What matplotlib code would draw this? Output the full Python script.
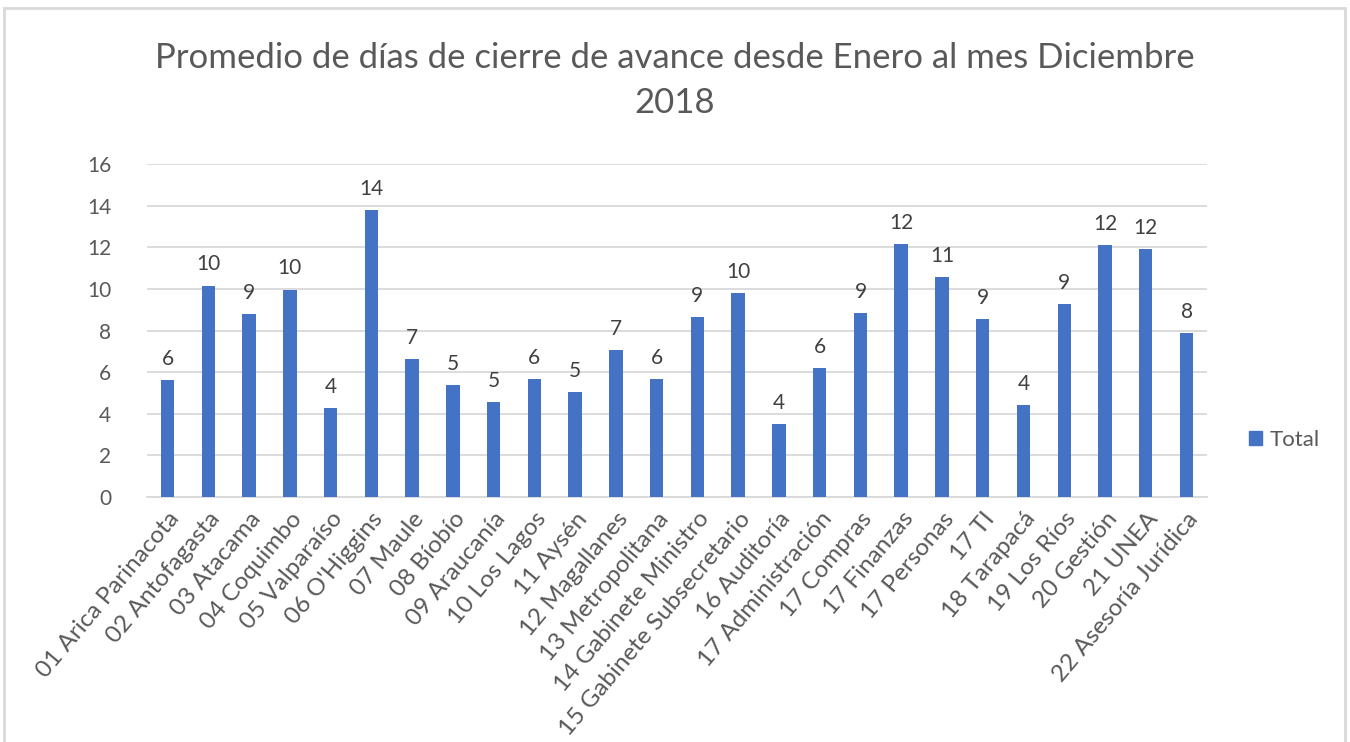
import numpy as np
import matplotlib.pyplot as plt
from matplotlib.patches import Rectangle, Patch

categories = ["01 Arica Parinacota", "02 Antofagasta", "03 Atacama", "04 Coquimbo",
              "05 Valparaíso", "06 O'Higgins", "07 Maule", "08 Bíobío",
              "09 Araucanía", "10 Los Lagos", "11 Aysén", "12 Magallanes",
              "13 Metropolitana", "14 Gabinete Ministro", "15 Gabinete Subsecretario",
              "16 Auditoría", "17 Administración", "17 Compras", "17 Finanzas",
              "17 Personas", "17 TI", "18 Tarapacá", "19 Los Ríos", "20 Gestión",
              "21 UNEA", "22 Asesoría Jurídica"]
values = [5.61, 10.16, 8.80, 9.97, 4.29, 13.77, 6.63, 5.38, 4.55, 5.67, 5.05, 7.05,
          5.67, 8.65, 9.82, 3.53, 6.22, 8.86, 12.16, 10.58, 8.57, 4.42, 9.28, 12.12,
          11.91, 7.88]
yticks = [0, 2, 4, 6, 8, 10, 12, 14, 16]

plt.rcParams['font.family'] = ['Lato', 'DejaVu Sans']
grey = '#595959'
blue = '#4472C4'

fig = plt.figure(figsize=(13.5, 7.42), dpi=100)
ax = fig.add_axes([0.109, 0.330, 0.785, 0.449])

x = np.arange(len(categories))
ax.bar(x, values, width=0.33, color=blue, zorder=3)
for xi, v in zip(x, values):
    ax.annotate(f"{v:.0f}", (xi, v), xytext=(0, 8), textcoords='offset points',
                ha='center', va='bottom', fontsize=15, color='#404040')

ax.set_xlim(-0.5, len(categories) - 0.5)
ax.set_ylim(0, 16)
ax.set_yticks(yticks)
ax.set_xticks(x)
ax.set_xticklabels(categories, rotation=50, ha='right', rotation_mode='anchor',
                   fontsize=17.5, color=grey)
ax.tick_params(axis='y', length=0, labelsize=15, labelcolor=grey, pad=26)
ax.tick_params(axis='x', length=0, pad=8)
ax.yaxis.grid(True, color='#d9d9d9', linewidth=1.3, zorder=0)
for s in ['top', 'right', 'left']:
    ax.spines[s].set_visible(False)
ax.spines['bottom'].set_color('#d9d9d9')
ax.spines['bottom'].set_linewidth(1.3)

fig.text(0.5, 0.8915, "Promedio de días de cierre de avance desde Enero al mes Diciembre\n2018",
         ha='center', va='center', fontsize=25, color=grey, linespacing=1.52)

fig.legend(handles=[Patch(color=blue, label='Total')], loc='center left',
           bbox_to_anchor=(0.9106, 0.407), frameon=False, fontsize=16,
           handlelength=0.55, handleheight=0.55, handletextpad=0.35,
           labelcolor=grey)

fig.patches.append(Rectangle((4 / 1350, -0.1), 1341 / 1350, 1.1 - 8 / 742,
                             transform=fig.transFigure, fill=False,
                             edgecolor='#d9d9d9', linewidth=2))

fig.savefig('out.png', dpi=100)
